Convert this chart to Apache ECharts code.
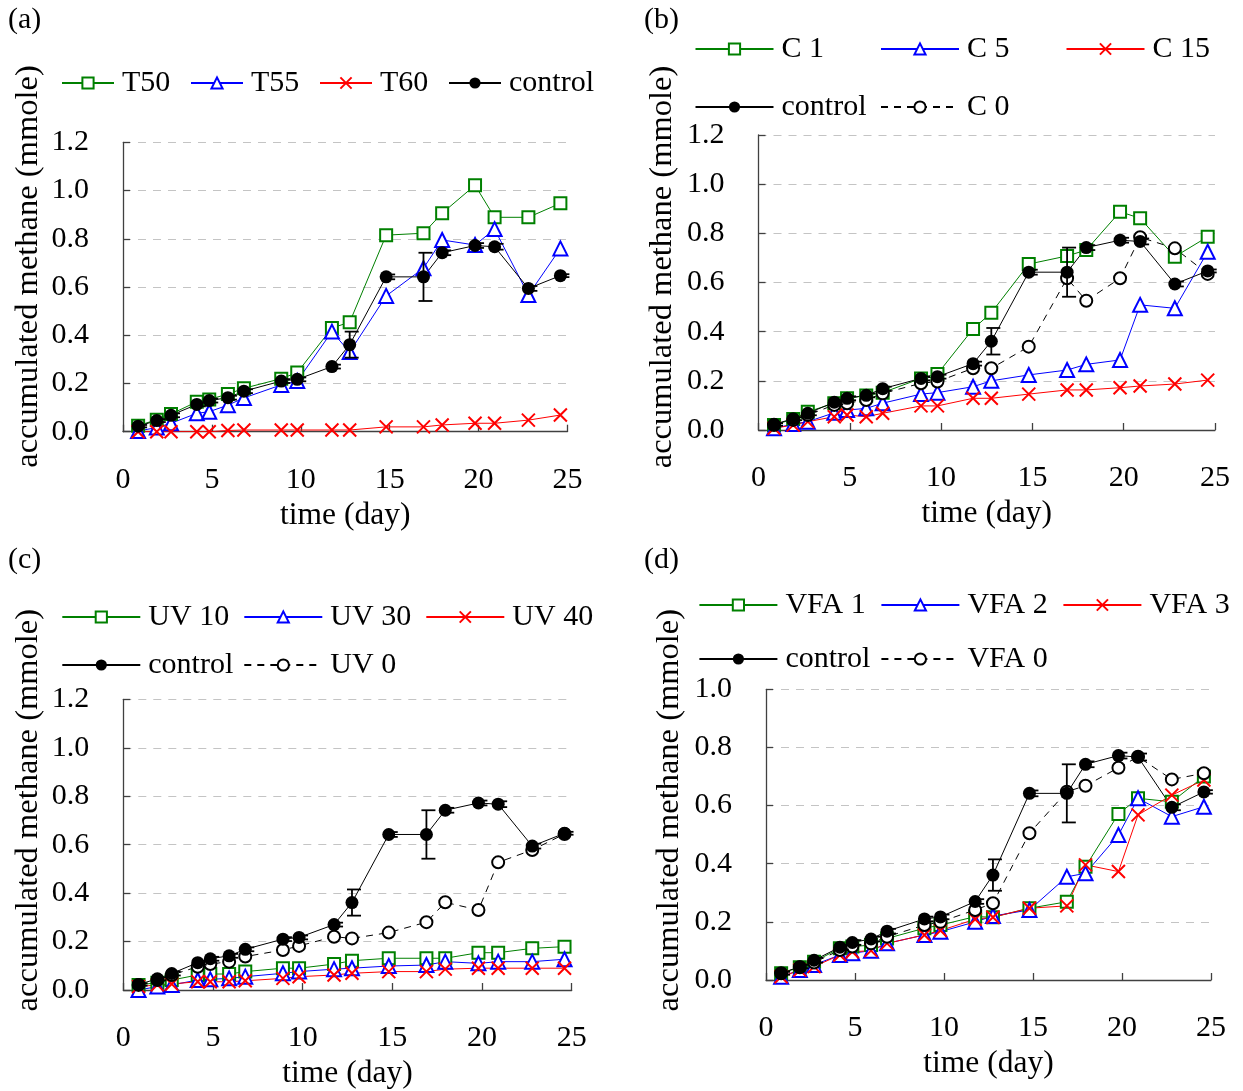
<!DOCTYPE html>
<html>
<head>
<meta charset="utf-8">
<title>accumulated methane</title>
<script src="https://cdn.jsdelivr.net/npm/echarts@6/dist/echarts.min.js"></script>
<style>
  html, body { margin: 0; padding: 0; background: #fff; }
  #chart { width: 1243px; height: 1091px; }
</style>
</head>
<body>
<div id="chart"></div>
<script>
// Sampling times (day)
const days = [0.85, 1.9, 2.7, 4.15, 4.85, 5.9, 6.8, 8.9, 9.8, 11.75, 12.75, 14.8, 16.9, 17.95, 19.8, 20.9, 22.8, 24.6];

// Control reactor, shared by all four panels (mean and standard deviation, mmole)
const control    = [0.023, 0.046, 0.068, 0.113, 0.129, 0.141, 0.168, 0.210, 0.217, 0.270, 0.361, 0.642, 0.642, 0.742, 0.772, 0.767, 0.594, 0.647];
const controlErr = [0.005, 0.006, 0.008, 0.008, 0.008, 0.008, 0.008, 0.008, 0.008, 0.008, 0.054, 0.010, 0.100, 0.010, 0.010, 0.012, 0.010, 0.006];

// (a) thermal pretreatment
const T50 = [0.025, 0.050, 0.073, 0.124, 0.134, 0.156, 0.180, 0.220, 0.245, 0.430, 0.454, 0.815, 0.823, 0.906, 1.022, 0.889, 0.889, 0.947];
const T55 = [0.003, 0.017, 0.035, 0.076, 0.083, 0.110, 0.140, 0.194, 0.210, 0.415, 0.330, 0.563, 0.678, 0.795, 0.774, 0.840, 0.567, 0.760];
const T60 = [0.000, 0.000, 0.000, 0.000, 0.000, 0.005, 0.007, 0.007, 0.007, 0.007, 0.007, 0.020, 0.020, 0.028, 0.035, 0.035, 0.048, 0.069];

// (b) C series
const C1  = [0.020, 0.045, 0.074, 0.109, 0.129, 0.140, 0.152, 0.210, 0.228, 0.411, 0.477, 0.675, 0.708, 0.732, 0.888, 0.861, 0.705, 0.786];
const C5  = [0.007, 0.024, 0.034, 0.070, 0.081, 0.088, 0.109, 0.146, 0.152, 0.176, 0.200, 0.224, 0.244, 0.267, 0.285, 0.509, 0.495, 0.725];
const C15 = [0.007, 0.020, 0.034, 0.054, 0.061, 0.054, 0.068, 0.098, 0.098, 0.129, 0.129, 0.146, 0.163, 0.163, 0.172, 0.179, 0.187, 0.203];
const C0  = [0.020, 0.041, 0.061, 0.102, 0.109, 0.122, 0.149, 0.190, 0.197, 0.251, 0.251, 0.339, 0.617, 0.526, 0.617, 0.784, 0.739, 0.635];

// (c) UV series
const UV10 = [0.021, 0.030, 0.041, 0.062, 0.066, 0.066, 0.076, 0.090, 0.090, 0.107, 0.121, 0.131, 0.131, 0.131, 0.154, 0.154, 0.172, 0.179];
const UV30 = [0.000, 0.014, 0.021, 0.041, 0.044, 0.048, 0.055, 0.069, 0.076, 0.086, 0.090, 0.099, 0.103, 0.117, 0.110, 0.117, 0.117, 0.127];
const UV40 = [0.014, 0.021, 0.025, 0.034, 0.034, 0.034, 0.038, 0.048, 0.055, 0.062, 0.069, 0.076, 0.076, 0.086, 0.090, 0.090, 0.090, 0.090];
const UV0  = [0.021, 0.041, 0.062, 0.096, 0.107, 0.117, 0.138, 0.165, 0.182, 0.220, 0.213, 0.237, 0.280, 0.362, 0.330, 0.527, 0.578, 0.644];

// (d) VFA series
const VFA1 = [0.023, 0.044, 0.063, 0.109, 0.115, 0.120, 0.143, 0.178, 0.189, 0.218, 0.216, 0.247, 0.269, 0.390, 0.571, 0.625, 0.613, 0.700];
const VFA2 = [0.011, 0.034, 0.052, 0.086, 0.092, 0.101, 0.126, 0.155, 0.166, 0.200, 0.220, 0.241, 0.355, 0.367, 0.499, 0.625, 0.562, 0.596];
const VFA3 = [0.011, 0.034, 0.046, 0.086, 0.097, 0.101, 0.126, 0.155, 0.170, 0.209, 0.216, 0.247, 0.255, 0.396, 0.373, 0.568, 0.636, 0.688];
const VFA0 = [0.023, 0.044, 0.060, 0.103, 0.115, 0.126, 0.149, 0.189, 0.200, 0.241, 0.264, 0.505, 0.648, 0.668, 0.730, 0.768, 0.690, 0.711];

// Axis ranges / ticks
const xMin = 0, xMax = 25, xStep = 5;
const yMaxABC = 1.2, yMaxD = 1.0, yStep = 0.2;

const FONT = 'Liberation Serif';
const GREEN = '#008000', BLUE = '#0000ff', RED = '#ff0000', BLACK = '#000000';
const CROSS = 'path://M0,0L10,10M10,0L0,10';

const pair = (vals) => days.map((d, i) => [d, vals[i]]);

const chart = echarts.init(document.getElementById('chart'), null, { renderer: 'canvas' });

// panel frames: grid boxes in page pixels
const panels = [
  { label: '(a)', labelPos: [8, 5],   grid: { left: 123,   top: 142.3, width: 444.5, height: 289.4 }, yMax: yMaxABC, nameShift: 41, nameGap: 78 },
  { label: '(b)', labelPos: [644, 5], grid: { left: 758.5, top: 135,   width: 456.5, height: 295   }, yMax: yMaxABC, nameShift: 31, nameGap: 80 },
  { label: '(c)', labelPos: [8, 545], grid: { left: 123.3, top: 699.3, width: 448.4, height: 290.7 }, yMax: yMaxABC, nameShift: 69, nameGap: 78 },
  { label: '(d)', labelPos: [644, 545], grid: { left: 766, top: 689.3, width: 445,   height: 290.7 }, yMax: yMaxD,   nameShift: 49, nameGap: 80 }
];

const grids = [], xAxes = [], yAxes = [], titles = [];
panels.forEach((p, i) => {
  grids.push(Object.assign({ containLabel: false }, p.grid));
  titles.push({
    text: p.label, left: p.labelPos[0], top: p.labelPos[1], padding: 0,
    textStyle: { fontFamily: FONT, fontSize: 30, fontWeight: 'normal', color: BLACK }
  });
  xAxes.push({
    type: 'value', gridIndex: i, min: xMin, max: xMax, interval: xStep,
    name: 'time (day)', nameLocation: 'middle', nameGap: 68,
    nameTextStyle: { fontFamily: FONT, fontSize: 31.5, color: BLACK },
    axisLine: { show: true, onZero: false, lineStyle: { color: '#404040', width: 1.3 } },
    axisTick: { show: true, inside: true, length: 7, lineStyle: { color: '#404040', width: 1.3 } },
    axisLabel: { fontFamily: FONT, fontSize: 30, color: BLACK, margin: 33 },
    splitLine: { show: false }
  });
  yAxes.push({
    type: 'value', gridIndex: i, min: 0, max: p.yMax, interval: yStep,
    name: 'accumulated methane (mmole)', nameLocation: 'middle', nameGap: p.nameGap,
    nameTextStyle: { fontFamily: FONT, fontSize: 32.5, color: BLACK, padding: [0, 0, 0, p.nameShift] },
    axisLine: { show: true, onZero: false, lineStyle: { color: '#404040', width: 1.3 } },
    axisTick: { show: true, inside: true, length: 7, lineStyle: { color: '#404040', width: 1.3 } },
    axisLabel: { fontFamily: FONT, fontSize: 30, color: BLACK, margin: 34, formatter: (v) => v.toFixed(1) },
    splitLine: { show: true, lineStyle: { color: '#c4c4c4', width: 1.2, type: [8, 7] } }
  });
});

// one line series with a given marker style
function lineSeries(name, vals, gi, style) {
  return {
    type: 'line', name: name, xAxisIndex: gi, yAxisIndex: gi,
    data: pair(vals),
    symbol: style.symbol, symbolSize: style.size,
    showAllSymbol: true,
    lineStyle: { color: style.color, width: 1, type: style.dash || 'solid' },
    itemStyle: { color: style.fill || style.color, borderColor: style.color, borderWidth: style.bw == null ? 1.6 : style.bw },
    emphasis: { disabled: true },
    animation: false
  };
}

const styles = {
  square:   { symbol: 'emptyRect', size: 12, color: GREEN, bw: 2 },
  triangle: { symbol: 'emptyTriangle', size: 14, color: BLUE, bw: 2 },
  cross:    { symbol: CROSS, size: 13, color: RED, fill: 'none', bw: 2 },
  control:  { symbol: 'circle', size: 13, color: BLACK, bw: 0 },
  open:     { symbol: 'emptyCircle', size: 12, color: BLACK, bw: 1.6, dash: [7, 6] }
};

// error bars drawn through the y axis of each panel
function errorBars(gi) {
  return {
    type: 'custom', xAxisIndex: gi, yAxisIndex: gi,
    data: days.map((d, i) => [d, control[i], controlErr[i]]),
    encode: { x: 0, y: 1 },
    z: 5, silent: true, animation: false,
    renderItem: function (params, api) {
      const x = api.value(0), y = api.value(1), e = api.value(2);
      const lo = api.coord([x, y - e]);
      const hi = api.coord([x, y + e]);
      const st = { stroke: BLACK, lineWidth: 1.8 };
      return {
        type: 'group',
        children: [
          { type: 'line', shape: { x1: lo[0], y1: lo[1], x2: hi[0], y2: hi[1] }, style: st },
          { type: 'line', shape: { x1: lo[0] - 5, y1: lo[1], x2: lo[0] + 9, y2: lo[1] }, style: st },
          { type: 'line', shape: { x1: hi[0] - 5, y1: hi[1], x2: hi[0] + 9, y2: hi[1] }, style: st }
        ]
      };
    }
  };
}

const series = [
  // (a)
  lineSeries('T50', T50, 0, styles.square),
  lineSeries('T55', T55, 0, styles.triangle),
  lineSeries('T60', T60, 0, styles.cross),
  lineSeries('control', control, 0, styles.control),
  errorBars(0),
  // (b)
  lineSeries('C 1', C1, 1, styles.square),
  lineSeries('C 5', C5, 1, styles.triangle),
  lineSeries('C 15', C15, 1, styles.cross),
  lineSeries('C 0', C0, 1, styles.open),
  lineSeries('control', control, 1, styles.control),
  errorBars(1),
  // (c)
  lineSeries('UV 10', UV10, 2, styles.square),
  lineSeries('UV 30', UV30, 2, styles.triangle),
  lineSeries('UV 40', UV40, 2, styles.cross),
  lineSeries('UV 0', UV0, 2, styles.open),
  lineSeries('control', control, 2, styles.control),
  errorBars(2),
  // (d)
  lineSeries('VFA 1', VFA1, 3, styles.square),
  lineSeries('VFA 2', VFA2, 3, styles.triangle),
  lineSeries('VFA 3', VFA3, 3, styles.cross),
  lineSeries('VFA 0', VFA0, 3, styles.open),
  lineSeries('control', control, 3, styles.control),
  errorBars(3)
];

// legend entries laid out in columns: each entry is its own legend box
function legendRow(names, firstLeft, pitch, rowY, iconW) {
  return names.map((name, k) => ({
    data: [name], left: firstLeft + k * pitch, top: rowY - 14, orient: 'horizontal',
    padding: 0, itemGap: 0, itemWidth: iconW, itemHeight: 14,
    selectedMode: false,
    textStyle: { fontFamily: FONT, fontSize: 30, color: BLACK, padding: [0, 0, 0, 3] }
  }));
}

const legends = [].concat(
  legendRow(['T50', 'T55', 'T60', 'control'], 61, 129, 82, 52),
  legendRow(['C 1', 'C 5', 'C 15'], 694.5, 185.5, 48, 78),
  legendRow(['control', 'C 0'], 694.5, 185.5, 106, 78),
  legendRow(['UV 10', 'UV 30', 'UV 40'], 61.3, 182, 616, 78),
  legendRow(['control', 'UV 0'], 61.3, 182, 664, 78),
  legendRow(['VFA 1', 'VFA 2', 'VFA 3'], 698.4, 182, 604, 78),
  legendRow(['control', 'VFA 0'], 698.4, 182, 658, 78)
);

chart.setOption({
  backgroundColor: '#ffffff',
  animation: false,
  title: titles,
  grid: grids,
  xAxis: xAxes,
  yAxis: yAxes,
  legend: legends,
  series: series
});
</script>
</body>
</html>
